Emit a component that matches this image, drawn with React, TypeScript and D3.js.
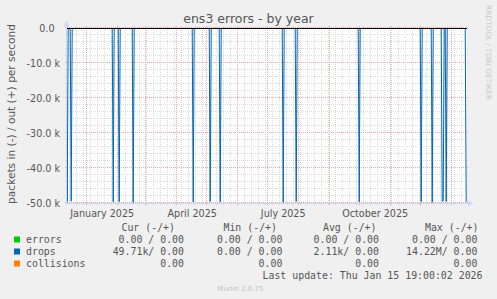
import React from "react";
import * as d3 from "d3";

const W = 497;
const H = 299;

// time range (UTC)
const endTime = new Date(Date.UTC(2026, 0, 15, 19, 0, 2));
const startTime = new Date(endTime.getTime() - 400 * 86400000);

// drops (in, packets/s) — spike days and estimated daily values
const dropDays = [
  "2024-12-12", "2024-12-16", "2025-01-27", "2025-02-02", "2025-02-16",
  "2025-04-17", "2025-05-04", "2025-05-14", "2025-07-16", "2025-07-29",
  "2025-09-30", "2025-12-01", "2025-12-12", "2025-12-22", "2025-12-23",
  "2025-12-26", "2026-01-15",
];
const dropValues = [
  49600, 49500, 49700, 49600, 49800,
  49700, 49600, 49700, 49800, 49600,
  49700, 49600, 49800, 49500, 49400,
  49600, 49710,
];

const yTicks = [0, -10000, -20000, -30000, -40000, -50000];
const yTickLabels = ["0.0", "-10.0 k", "-20.0 k", "-30.0 k", "-40.0 k", "-50.0 k"];
const yMinorStep = 2000;

const xLabelDates = ["2025-01-01", "2025-04-01", "2025-07-01", "2025-10-01"];
const xLabels = ["January 2025", "April 2025", "July 2025", "October 2025"];

const legendNames = ["errors", "drops", "collisions"];
const legendColors = ["#00cc00", "#0066b3", "#ff8000"];
const curVals = ["0.00 / 0.00", "49.71k/ 0.00", "0.00"];
const minVals = ["0.00 / 0.00", "0.00 / 0.00", "0.00"];
const avgVals = ["0.00 / 0.00", "2.11k/ 0.00", "0.00"];
const maxVals = ["0.00 / 0.00", "14.22M/ 0.00", "0.00"];
const headers = ["Cur (-/+)", "Min (-/+)", "Avg (-/+)", "Max (-/+)"];

const L = 67, R = 467, T = 28, B = 203;
const FONT = "'DejaVu Sans', sans-serif";
const MONO = "'DejaVu Sans Mono', monospace";
const TXT = "#555";

export default function App() {
  const x = d3.scaleUtc().domain([startTime, endTime]).range([L, R]);
  const y = d3.scaleLinear().domain([-50000, 0]).range([B, T]);
  const crisp = (v: number) => Math.round(v) - 0.5;

  const day = 86400000;
  const pts: [Date, number][] = [];
  dropDays.forEach((d, i) => {
    const t = new Date(d + "T00:00:00Z");
    pts.push([new Date(t.getTime() - day), 0]);
    pts.push([t, -dropValues[i]]);
    if (t.getTime() + day <= endTime.getTime()) pts.push([new Date(t.getTime() + day), 0]);
  });
  pts.sort((a, b) => a[0].getTime() - b[0].getTime());
  const merged: [Date, number][] = [];
  pts.forEach((p) => {
    const last = merged[merged.length - 1];
    if (last && last[0].getTime() === p[0].getTime()) {
      if (p[1] < last[1]) last[1] = p[1];
    } else merged.push([p[0], p[1]]);
  });
  const lineGen = d3
    .line<[Date, number]>()
    .x((d) => x(d[0]))
    .y((d) => y(d[1]));

  const minorY = d3.range(0, -50001, -yMinorStep).filter((v) => v % 10000 !== 0);
  const minorX = d3.utcSunday.range(startTime, endTime);
  const majorX = d3.utcMonth.range(startTime, endTime);

  const valueEnds = [184, 282.4, 379, 477.4];
  const headerEnds = [175, 277, 376.5, 478.5];
  const rowY = [243, 255, 267];

  return (
    <div style={{ position: "fixed", left: 0, top: 0 }}>
      <svg width={W} height={H} style={{ display: "block" }}>
        <rect x={0} y={0} width={W} height={H} fill="#f0f0f0" />
        <rect x={L} y={T} width={R - L} height={B - T} fill="#ffffff" />
        <defs>
          <clipPath id="plot">
            <rect x={L} y={T} width={R - L} height={B - T + 0.5} />
          </clipPath>
        </defs>
        {minorY.map((v) => (
          <line key={"my" + v} x1={L - 2} x2={R + 2} y1={crisp(y(v))} y2={crisp(y(v))}
            stroke="#dcdcdc" strokeDasharray="1,1" />
        ))}
        {minorX.map((d) => (
          <line key={"mx" + d.getTime()} x1={crisp(x(d))} x2={crisp(x(d))} y1={T - 2} y2={B + 2}
            stroke="#dcdcdc" strokeDasharray="1,1" />
        ))}
        {yTicks.map((v) => (
          <line key={"My" + v} x1={L - 2} x2={R + 2} y1={crisp(y(v))} y2={crisp(y(v))}
            stroke="#eaaaaa" strokeDasharray="1,1" />
        ))}
        {majorX.map((d) => (
          <line key={"Mx" + d.getTime()} x1={crisp(x(d))} x2={crisp(x(d))} y1={T - 2} y2={B + 2}
            stroke="#eaaaaa" strokeDasharray="1,1" />
        ))}
        <line x1={L - 2} x2={R + 2} y1={B + 0.5} y2={B + 0.5} stroke="#cfd6f8" />
        <line x1={L - 0.5} x2={L - 0.5} y1={B + 2} y2={T - 2} stroke="#cfd6f8" />
        <polygon points={`${R + 1},${B - 2.5} ${R + 1},${B + 3.5} ${R + 6},${B + 0.5}`} fill="#cfd6f8" />
        <polygon points={`${L - 3.5},${T - 1.5} ${L + 2.5},${T - 1.5} ${L - 0.5},${T - 7.5}`} fill="#cfd6f8" />
        <g clipPath="url(#plot)">
          <path d={lineGen(merged) || ""} fill="none" stroke="#0066b3" strokeWidth={1} />
        </g>
        <line x1={L} x2={R} y1={T + 0.5} y2={T + 0.5} stroke="#000000" />
        {yTicks.map((v, i) => (
          <text key={"yl" + v} x={i === 0 ? 54.5 : 60} y={y(v) + 3.5} textAnchor="end"
            fontFamily={FONT} fontSize={9.6} fill={TXT}>
            {yTickLabels[i]}
          </text>
        ))}
        {xLabelDates.map((d, i) => {
          const t = new Date(d + "T00:00:00Z");
          return (
            <text key={"xl" + d} x={x(t) + 15} y={216.5} textAnchor="middle"
              fontFamily={FONT} fontSize={9.6} fill={TXT}>
              {xLabels[i]}
            </text>
          );
        })}
        <text x={248.5} y={23} textAnchor="middle" fontFamily={FONT} fontSize={12.5} fill={TXT}>
          ens3 errors - by year
        </text>
        <text transform="translate(14.5,114) rotate(-90)" textAnchor="middle" fontFamily={FONT}
          fontSize={10.6} fill={TXT}>
          packets in (-) / out (+) per second
        </text>
        <text transform="translate(485.5,5) rotate(90)" textAnchor="start" fontFamily={FONT}
          fontSize={7.4} fill="#c8c8c8">
          RRDTOOL / TOBI OETIKER
        </text>
        {headers.map((h, i) => (
          <text key={"h" + i} x={headerEnds[i]} y={230.5} textAnchor="end" fontFamily={MONO}
            fontSize={9.9} fill={TXT} xmlSpace="preserve">
            {h}
          </text>
        ))}
        {legendNames.map((n, i) => (
          <g key={"lg" + n}>
            <rect x={14} y={rowY[i] - 6.5} width={6} height={6} fill={legendColors[i]} />
            <text x={26} y={rowY[i]} fontFamily={MONO} fontSize={9.9} fill={TXT}>{n}</text>
            {[curVals, minVals, avgVals, maxVals].map((col, j) => (
              <text key={j} x={valueEnds[j]} y={rowY[i]} textAnchor="end" fontFamily={MONO}
                fontSize={9.9} fill={TXT} xmlSpace="preserve">
                {col[i]}
              </text>
            ))}
          </g>
        ))}
        <text x={482.5} y={278.5} textAnchor="end" fontFamily={MONO} fontSize={9.9} fill={TXT}>
          Last update: Thu Jan 15 19:00:02 2026
        </text>
        <text x={240.5} y={291} textAnchor="middle" fontFamily={FONT} fontSize={7} fill="#c0c0c0">
          Munin 2.0.75
        </text>
      </svg>
    </div>
  );
}
